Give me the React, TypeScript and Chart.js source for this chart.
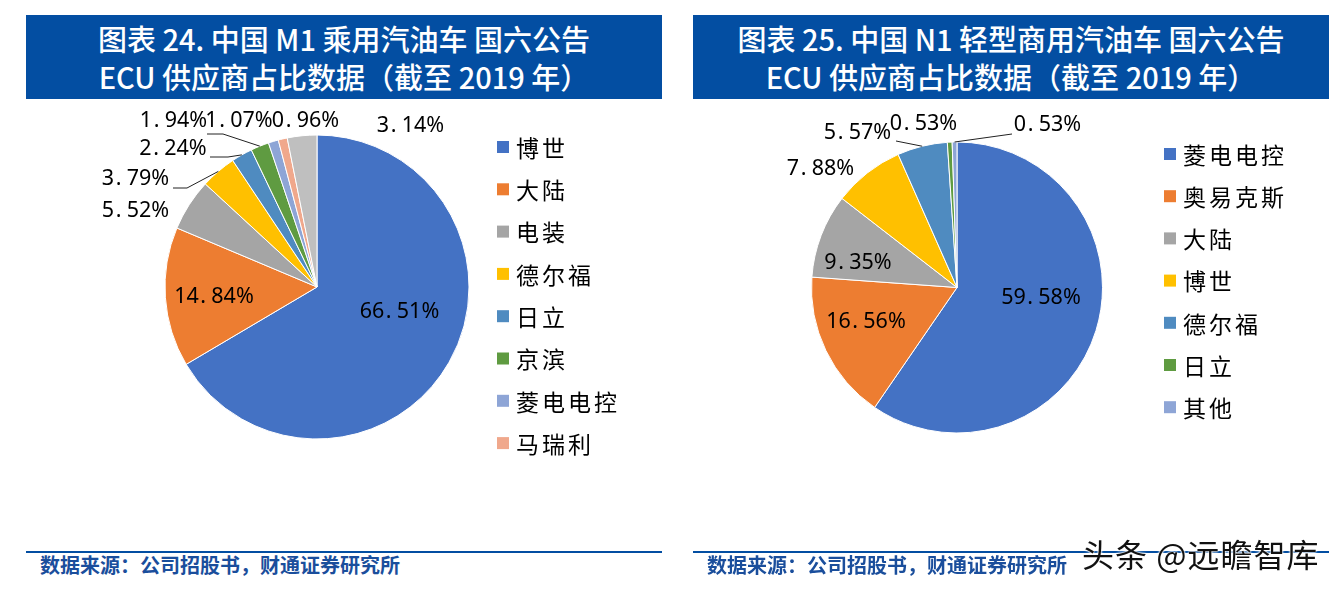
import React, { useEffect, useRef } from "react";
import { Chart, registerables } from "chart.js";

Chart.register(...registerables);

// ---------- data ----------
const leftCategories = ["博世", "大陆", "电装", "德尔福", "日立", "京滨", "菱电电控", "马瑞利", "其他"];
const leftValues = [66.51, 14.84, 5.52, 3.79, 2.24, 1.94, 1.07, 0.96, 3.14];
const leftColors = ["#4472C4", "#ED7D31", "#A5A5A5", "#FFC000", "#4F8BC0", "#5F9B41", "#8EA5D6", "#F0A88C", "#BFBFBF"];
const leftLegendExclude = ["其他"];

const rightCategories = ["菱电电控", "奥易克斯", "大陆", "博世", "德尔福", "日立", "其他"];
const rightValues = [59.58, 16.56, 9.35, 7.88, 5.57, 0.53, 0.53];
const rightColors = ["#4472C4", "#ED7D31", "#A5A5A5", "#FFC000", "#4F8BC0", "#5F9B41", "#8EA5D6"];
const rightLegendExclude: string[] = [];

const leftTitle = ["图表 24. 中国 M1 乘用汽油车 国六公告", "ECU 供应商占比数据（截至 2019 年）"];
const rightTitle = ["图表 25. 中国 N1 轻型商用汽油车 国六公告", "ECU 供应商占比数据（截至 2019 年）"];
const sourceText = "数据来源：公司招股书，财通证券研究所";
const watermark = "头条 @远瞻智库";

// ---------- label layout (offsets from pie centre, px) ----------
const leftLabelOffsets = [
  [82.5, 25], [-103, 10], [-181.5, -76], [-181.5, -108], [-144, -138],
  [-143.5, -166], [-78, -166], [-11.5, -166], [93.5, -161],
];
const leftLeaders = [null, null, null, [37.5, 9, 14], [37, 8, 18], [33.5, 13, 16], null, null, null];

const rightLabelOffsets = [
  [84, 10.5], [-91, 34.5], [-99, -24.5], [-136.5, -118.5], [-99.5, -154.5], [-33.5, -163.5], [90.5, -162.5],
];
const rightLeaders = [null, null, null, null, [38.5, 8, 0], null, [-35.5, 9, 0]];

const BLUE = "#034EA2";

function drawPct(ctx: CanvasRenderingContext2D, text: string, cx: number, cy: number) {
  const i = text.indexOf(".");
  const a = text.slice(0, i);
  const b = text.slice(i + 1);
  const wa = ctx.measureText(a).width;
  const wb = ctx.measureText(b).width;
  const dotAdv = 12.5;
  const total = wa + dotAdv + wb;
  const x = cx - total / 2;
  ctx.textAlign = "left";
  ctx.fillText(a, x, cy);
  ctx.fillText(".", x + wa + 1.5, cy);
  ctx.fillText(b, x + wa + dotAdv, cy);
}

function makeLabelPlugin(offsets: number[][], leaders: (number[] | null)[]) {
  return {
    id: "pieLabels",
    afterDatasetsDraw(chart: any) {
      const meta = chart.getDatasetMeta(0);
      const ds = chart.data.datasets[0];
      const ctx = chart.ctx as CanvasRenderingContext2D;
      ctx.save();
      ctx.font = '21.5px "Noto Sans", sans-serif';
      ctx.fillStyle = "#000";
      ctx.strokeStyle = "#222";
      ctx.lineWidth = 1;
      ctx.textBaseline = "middle";
      meta.data.forEach((arc: any, i: number) => {
        const p = arc.getProps(["x", "y", "startAngle", "endAngle", "outerRadius"], true);
        const off = offsets[i];
        if (!off) return;
        const lx = p.x + off[0];
        const ly = p.y + off[1];
        drawPct(ctx, Number(ds.data[i]).toFixed(2) + "%", lx, ly);
        const ld = leaders[i];
        if (ld) {
          const mid = (p.startAngle + p.endAngle) / 2;
          const ex = p.x + p.outerRadius * Math.cos(mid);
          const ey = p.y + p.outerRadius * Math.sin(mid);
          const sx = lx + ld[0];
          const sy = ly + ld[1];
          ctx.beginPath();
          ctx.moveTo(sx, sy);
          ctx.lineTo(sx + ld[2], sy);
          ctx.lineTo(ex, ey);
          ctx.stroke();
        }
      });
      ctx.restore();
    },
  };
}

function makeLegendPlugin(left: number, top: number, rowHeight: number, exclude: string[]) {
  return {
    id: "sideLegend",
    afterDraw(chart: any) {
      const ctx = chart.ctx as any;
      const labels: string[] = chart.data.labels;
      const colors: string[] = chart.data.datasets[0].backgroundColor;
      ctx.save();
      ctx.font = '23px "Noto Sans CJK SC", sans-serif';
      ctx.textAlign = "left";
      ctx.textBaseline = "middle";
      ctx.letterSpacing = "3px";
      let row = 0;
      labels.forEach((lab, i) => {
        if (exclude.includes(lab)) return;
        const cy = top + row * rowHeight;
        ctx.fillStyle = colors[i];
        ctx.fillRect(left, cy - 6, 12, 12);
        ctx.fillStyle = "#000";
        ctx.fillText(lab, left + 19, cy + 1);
        row++;
      });
      ctx.restore();
    },
  };
}

type PanelProps = {
  x: number;
  title: string[];
  labels: string[];
  values: number[];
  colors: string[];
  radius: number;
  padding: { left: number; right: number; top: number; bottom: number };
  offsets: number[][];
  leaders: (number[] | null)[];
  legendTop: number;
  legendRow: number;
  exclude: string[];
};

function Panel(props: PanelProps) {
  const ref = useRef<HTMLCanvasElement | null>(null);
  useEffect(() => {
    if (!ref.current) return;
    const chart = new Chart(ref.current, {
      type: "pie",
      data: {
        labels: props.labels,
        datasets: [
          {
            data: props.values,
            backgroundColor: props.colors,
            borderColor: "#ffffff",
            borderWidth: 1,
            radius: props.radius,
          } as any,
        ],
      },
      options: {
        responsive: false,
        animation: false,
        layout: { padding: props.padding },
        plugins: { legend: { display: false }, tooltip: { enabled: false } },
      },
      plugins: [
        makeLabelPlugin(props.offsets, props.leaders),
        makeLegendPlugin(471, props.legendTop, props.legendRow, props.exclude),
      ],
    });
    return () => chart.destroy();
  }, []);

  const font = '"Noto Sans CJK SC", sans-serif';
  return (
    <>
      <div
        style={{
          position: "absolute",
          left: props.x,
          top: 15,
          width: 636,
          height: 84,
          boxSizing: "border-box",
          paddingTop: 4,
          background: BLUE,
          color: "#fff",
          fontFamily: font,
          fontSize: 29,
          fontWeight: 500,
          lineHeight: "38px",
          textAlign: "center",
          whiteSpace: "nowrap",
        }}
      >
        <div>{props.title[0]}</div>
        <div>{props.title[1]}</div>
      </div>
      <canvas
        ref={ref}
        width={636}
        height={450}
        style={{ position: "absolute", left: props.x, top: 99, width: 636, height: 450, display: "block" }}
      />
      <div style={{ position: "absolute", left: props.x, top: 551, width: 636, height: 2, background: BLUE }} />
      <div
        style={{
          position: "absolute",
          left: props.x + 14,
          top: 553,
          fontFamily: font,
          fontSize: 20,
          fontWeight: 700,
          lineHeight: "24px",
          color: "#1A4E9C",
          whiteSpace: "nowrap",
        }}
      >
        {sourceText}
      </div>
    </>
  );
}

export default function App() {
  return (
    <div style={{ position: "fixed", left: 0, top: 0, width: 1344, height: 590, background: "#fff", overflow: "hidden" }}>
      <Panel
        x={26}
        title={leftTitle}
        labels={leftCategories}
        values={leftValues}
        colors={leftColors}
        radius={152}
        padding={{ left: 0, top: 0, right: 54, bottom: 74 }}
        offsets={leftLabelOffsets}
        leaders={leftLeaders}
        legendTop={48}
        legendRow={42.3}
        exclude={leftLegendExclude}
      />
      <Panel
        x={693}
        title={rightTitle}
        labels={rightCategories}
        values={rightValues}
        colors={rightColors}
        radius={145.5}
        padding={{ left: 0, top: 0, right: 108, bottom: 73 }}
        offsets={rightLabelOffsets}
        leaders={rightLeaders}
        legendTop={55}
        legendRow={42.2}
        exclude={rightLegendExclude}
      />
      <div
        style={{
          position: "absolute",
          left: 1082,
          top: 533,
          fontFamily: '"Noto Sans CJK SC", sans-serif',
          fontSize: 32,
          lineHeight: "40px",
          color: "#111",
          letterSpacing: "1px",
          whiteSpace: "nowrap",
          textShadow: "0 0 2px #fff, 0 0 2px #fff, 0 0 3px #fff",
        }}
      >
        {watermark}
      </div>
    </div>
  );
}
